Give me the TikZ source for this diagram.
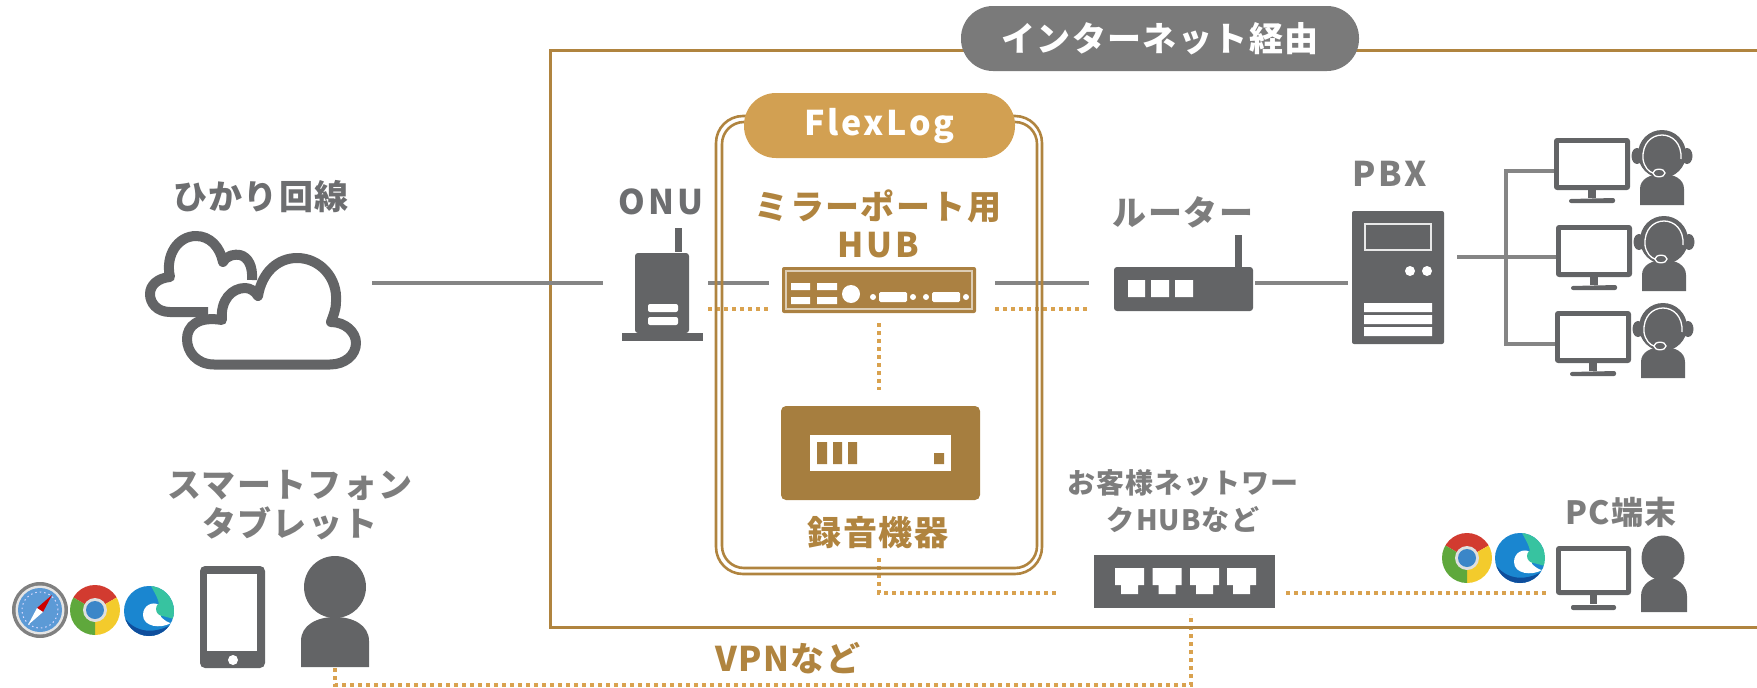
\documentclass[tikz,border=0pt]{standalone}
\usepackage{fontspec}
\newfontfamily\jb[LetterSpace=4]{Noto Sans CJK JP}
\newfontfamily\jbw[LetterSpace=8]{Noto Sans CJK JP}
\definecolor{gold}{HTML}{B0843F}
\definecolor{pillgold}{HTML}{D2A052}
\definecolor{dotgold}{HTML}{D9A24F}
\definecolor{devgold}{HTML}{A67E3F}
\definecolor{hubgold}{HTML}{AB8142}
\definecolor{dev}{HTML}{636466}
\definecolor{lbl}{HTML}{7D7D7D}
\definecolor{lbld}{HTML}{6D6E70}
\definecolor{cable}{HTML}{858585}
\definecolor{pillgray}{HTML}{7A7A7A}
\definecolor{edgeblue}{HTML}{1A86D0}
\definecolor{edgedark}{HTML}{0F4E9C}
\definecolor{edgeteal}{HTML}{37C3A0}
\definecolor{chrred}{HTML}{D23B30}
\definecolor{chryel}{HTML}{F3CB2C}
\definecolor{chrgrn}{HTML}{5FA83C}
\definecolor{chrblu}{HTML}{3B86C8}
\definecolor{safblu}{HTML}{5C9AD6}
\tikzset{
  frameline/.style={draw=gold,line width=3pt},
  cableline/.style={draw=cable,line width=4.5pt},
  dotline/.style={draw=dotgold,line width=4pt,dash pattern=on 4pt off 4pt},
  pillbox/.style={inner sep=0pt,text=white,font=\fontsize{34}{38}\selectfont\bfseries},
  lab/.style={inner sep=0pt,align=center,text=lbl,font=\fontsize{34}{39}\jb\bfseries},
  labw/.style={inner sep=0pt,align=center,text=lbld,font=\fontsize{34}{39}\jbw\bfseries},
  labg/.style={inner sep=0pt,align=center,text=gold,font=\fontsize{34}{39}\jb\bfseries},
  labgw/.style={inner sep=0pt,align=center,text=gold,font=\fontsize{34}{39}\jbw\bfseries},
  labs/.style={inner sep=0pt,align=center,text=lbl,font=\fontsize{28}{37}\jb\bfseries},
  monitor/.pic={
    \fill[dev,rounded corners=3pt] (0,0) rectangle (76,52);
    \fill[white] (5,5) rectangle (71,47);
    \fill[dev] (34,52) rectangle (42,60);
    \fill[dev,rounded corners=2pt] (15,65) -- (15,61) -- (61,60) -- (61,65) -- cycle;
  },
  person/.pic={
    \fill[dev] (0,-30) circle (31pt);
    \fill[dev] (-34,50) -- (-34,24) .. controls (-34,8) and (-18,0) .. (0,0) .. controls (18,0) and (34,8) .. (34,24) -- (34,50) -- cycle;
  },
  agent/.pic={
    \fill[dev] (0,-3) circle (24pt);
    \fill[dev] (-25,-1) ellipse (5.5pt and 8pt);
    \fill[dev] (25,-1) ellipse (5.5pt and 8pt);
    \fill[dev] (-22,48) -- (-22,32) .. controls (-22,22) and (-12,17) .. (0,17) .. controls (12,17) and (22,22) .. (22,32) -- (22,48) -- cycle;
    \draw[white,line width=1.3pt] (-19,2) .. controls (-20,-14) and (-10,-22) .. (0,-22) .. controls (10,-22) and (20,-14) .. (19,2);
    \draw[white,line width=1.3pt] (-19,2) .. controls (-18,10) and (-13,15) .. (-9,16);
    \draw[white,line width=1.3pt,fill=dev] (-3,16) ellipse (6pt and 3.8pt);
  },
  chromeicon/.pic={
    \begin{scope}
      \clip (0,0) circle (25pt);
      \fill[chrred] (0,0) -- (210:60) -- (270:80) -- (330:60) -- cycle;
      \fill[chryel] (0,0) -- (330:60) -- (30:80) -- (90:60) -- cycle;
      \fill[chrgrn] (0,0) -- (90:60) -- (150:80) -- (210:60) -- cycle;
    \end{scope}
    \fill[white!75!gray] (0,0) circle (12pt);
    \fill[chrblu] (0,0) circle (9pt);
  },
  edgeicon/.pic={
    \begin{scope}
      \clip (0,0) circle (25pt);
      \fill[edgeblue] (-25,-25) rectangle (25,25);
      \fill[edgeteal] (2,-25) -- (25,-25) -- (25,8) -- (10,4) .. controls (12,-8) and (8,-14) .. (2,-25) -- cycle;
      \fill[edgedark] (-25,6) .. controls (-14,22) and (6,24) .. (25,12) -- (25,25) -- (-25,25) -- cycle;
      \fill[white] (-6,4) .. controls (-6,-6) and (4,-10) .. (10,-6) -- (12,6) .. controls (16,10) and (20,12) .. (22,12) .. controls (12,18) and (-6,16) .. (-6,4) -- cycle;
      \fill[edgeteal] (14,-2) circle (7pt);
    \end{scope}
  },
  safariicon/.pic={
    \fill[gray] (0,0) circle (28pt);
    \fill[white!80!gray] (0,0) circle (24.5pt);
    \fill[safblu] (0,0) circle (22pt);
    \draw[white!85!blue,line width=1pt,dash pattern=on 1.5pt off 3pt] (0,0) circle (18pt);
    \fill[red!80!black] (0,0) -- (-3,-2) -- (12,-15) -- (3,2) -- cycle;
    \fill[white] (0,0) -- (-3,-2) -- (-12,15) -- (3,2) -- cycle;
  },
}
\begin{document}
\begin{tikzpicture}[x=1pt,y=-1pt]
\useasboundingbox (0,0) rectangle (1757,688);
% named anchors for the connectors
\coordinate (rectTR) at (1757,50);
\coordinate (rectTL) at (550,50);
\coordinate (rectBL) at (550,627);
\coordinate (rectBR) at (1757,627);
\coordinate (cloudE) at (372,283);
\coordinate (onuW) at (603,283);
\coordinate (onuE) at (708,283);
\coordinate (hubW) at (769,283);
\coordinate (hubE) at (995,283);
\coordinate (routerW) at (1089,283);
\coordinate (routerE) at (1255,283);
\coordinate (pbxW) at (1348,283);
\coordinate (pbxE) at (1457,257);
\coordinate (busM) at (1506,257);
\coordinate (busT) at (1506,171);
\coordinate (busB) at (1506,344);
\coordinate (mon1) at (1556,171);
\coordinate (mon2) at (1558,257);
\coordinate (mon3) at (1557,344);
\coordinate (dOnu) at (708,308.5);
\coordinate (dHubW) at (769,308.5);
\coordinate (dHubE) at (995,308.5);
\coordinate (dRouter) at (1089,308.5);
\coordinate (dHubS) at (879,323);
\coordinate (dRecN) at (879,390);
\coordinate (dRecS) at (879,558);
\coordinate (dCorner) at (879,593);
\coordinate (dSwW) at (1056,593);
\coordinate (dSwE) at (1286,593);
\coordinate (dPc) at (1549,593);
\coordinate (dSwS) at (1191,614);
\coordinate (dSwC) at (1191,685);
\coordinate (dPerC) at (335,685);
\coordinate (dPer) at (335,668);
% connectors
\draw[dotline] (dOnu) -- (dHubW);
\draw[dotline] (dHubE) -- (dRouter);
\draw[dotline] (dHubS) -- (dRecN);
\draw[dotline] (dRecS) -- (dCorner) -- (dSwW);
\draw[dotline] (dSwE) -- (dPc);
\draw[dotline] (dPer) -- (dPerC) -- (dSwC) -- (dSwS);
\draw[frameline,line width=3pt] (rectTR) -- (rectTL) -- (rectBL) -- (rectBR);
\draw[cableline] (cloudE) -- (onuW);
\draw[cableline] (onuE) -- (hubW);
\draw[cableline] (hubE) -- (routerW);
\draw[cableline] (routerE) -- (pbxW);
\draw[cableline] (pbxE) -- (mon2);
\draw[cableline] (mon1) -- (busT) -- (busB) -- (mon3);
% FlexLog frame
\draw[frameline,line width=2.6pt,rounded corners=27pt] (716,116) rectangle (1042,574);
\draw[frameline,line width=2.6pt,rounded corners=22pt] (722,122) rectangle (1037,568);
% pills
\node[pillbox,fill=pillgray,rounded corners=32pt,minimum width=398pt,minimum height=65pt] (net) at (1160,38.5) {\jb インターネット経由};
\node[pillbox,fill=pillgold,rounded corners=32pt,minimum width=271pt,minimum height=65pt] (flex) at (879.5,125.5) {\jbw FlexLog};
% labels
\node[lab,text=lbld] (hikari) at (261,197) {ひかり回線};
\node[labw] (onutext) at (661,202) {ONU};
\node[labg] (mirror) at (878,224) {ミラーポート用\\[-1pt]{\jbw HUB}};
\node[labg] (rec) at (878,533) {録音機器};
\node[lab] (router) at (1183,212) {ルーター};
\node[labw,text=lbl] (pbx) at (1390,174) {PBX};
\node[lab] (smart) at (290,505) {スマートフォン\\タブレット};
\node[labs] (custhub) at (1183,501) {お客様ネットワー\\クHUBなど};
\node[lab,font=\fontsize{32}{36}\jb\bfseries] (pc) at (1621,512) {PC端末};
\node[labg] (vpn) at (788,658) {VPNなど};
% cloud
\draw[dev,line width=10pt,line join=round] (208,312) -- (170,312) .. controls (157,312) and (150,303) .. (150,294) .. controls (150,285) and (158,278) .. (170,277) .. controls (165,255) and (178,236) .. (196,236) .. controls (210,236) and (220,247) .. (223,262) .. controls (227,255) and (235,254) .. (240,255) .. controls (248,257) and (253,266) .. (252,280);
\draw[dev,line width=10pt,line join=round,fill=white] (214,364.5) .. controls (197,364.5) and (187,352) .. (187,339) .. controls (187,326) and (198,316) .. (222,320) .. controls (220,300) and (232,288) .. (245,288) .. controls (250,288) and (255,291) .. (258,296) .. controls (262,272) and (278,258) .. (297,258) .. controls (320,258) and (338,278) .. (336,302) .. controls (336,310) and (333,316) .. (331,322) .. controls (345,322) and (356,332) .. (356,343) .. controls (356,355) and (345,364.5) .. (330,364.5) -- cycle;
% ONU
\fill[dev] (675,228) rectangle (682,252);
\fill[dev,rounded corners=3pt] (635,333) -- (635,253) -- (689,253) -- (689,333) -- cycle;
\fill[dev] (622,333) rectangle (703,341);
\fill[white,rounded corners=2pt] (648,304) rectangle (678,312);
\fill[white,rounded corners=2pt] (648,317) rectangle (678,325);
% mirror HUB
\fill[hubgold,rounded corners=2pt] (782,267) rectangle (976,313);
\draw[white!60!hubgold,line width=1.2pt] (786,271) rectangle (972,309);
\fill[white] (791,283) rectangle (810,290) (817,283) rectangle (837,290) (791,297) rectangle (810,304) (817,297) rectangle (837,304);
\fill[white] (851,294) circle (9pt);
\fill[white] (873,297) circle (3pt) (913,297) circle (3pt) (926,297) circle (3pt) (966,297) circle (3pt);
\fill[white,rounded corners=1.5pt] (879,292) rectangle (907,302) (932,292) rectangle (960,302);
% recorder
\fill[devgold,rounded corners=5pt] (781,406) rectangle (980,500);
\fill[white] (810,435) rectangle (951,471);
\fill[devgold] (817,442) rectangle (827,464) (833,442) rectangle (842,464) (848,442) rectangle (857,464) (934,453) rectangle (944,464);
% router
\fill[dev] (1234.5,235) rectangle (1241.5,268);
\fill[dev,rounded corners=3pt] (1114,267) rectangle (1253,311);
\fill[white] (1128,280) rectangle (1145,297) (1151,280) rectangle (1169,297) (1175,280) rectangle (1193,297);
% PBX
\fill[dev,rounded corners=2pt] (1352,211) rectangle (1444,344);
\draw[white!85!dev,line width=2.2pt] (1365,224) rectangle (1431,250);
\fill[white] (1410,271) circle (5pt) (1427,271) circle (5pt);
\fill[white] (1364,303) rectangle (1432,312) (1364,315) rectangle (1432,324) (1364,327) rectangle (1432,336);
% monitors and agents
\pic at (1554,138) {monitor};
\pic at (1556,225) {monitor};
\pic at (1555,311) {monitor};
\pic at (1662,157) {agent};
\pic at (1664,243) {agent};
\pic at (1663,330) {agent};
% switch
\fill[dev] (1094,555) rectangle (1275,608);
\foreach \px in {1115,1152.5,1190,1227}{
  \fill[white] (\px,568) -- ++(29,0) -- ++(0,17) -- ++(-6,0) -- ++(0,9) -- ++(-17,0) -- ++(0,-9) -- ++(-6,0) -- cycle;
}
% PC
\fill[dev,rounded corners=3pt] (1556,546) rectangle (1631,595);
\fill[white] (1561,551) rectangle (1626,590);
\fill[dev] (1590,595) rectangle (1597,604);
\fill[dev,rounded corners=2pt] (1571,610) -- (1571,605) -- (1616,605) -- (1616,610) -- cycle;
\fill[dev] (1663,558) ellipse (21.5pt and 22.5pt);
\fill[dev] (1641,612) -- (1641,596) .. controls (1641,584) and (1652,577) .. (1664,577) .. controls (1676,577) and (1687,584) .. (1687,596) -- (1687,612) -- cycle;
\pic at (1467,558) {chromeicon};
\pic at (1520,558) {edgeicon};
% smartphone
\fill[dev,rounded corners=5pt] (200,566) rectangle (265,668);
\fill[white] (207,574) rectangle (257,651);
\fill[white] (233,660) circle (5pt);
\pic at (335,617) {person};
\pic at (40,610) {safariicon};
\pic at (95,610) {chromeicon};
\pic at (149,611) {edgeicon};
\end{tikzpicture}
\end{document}
